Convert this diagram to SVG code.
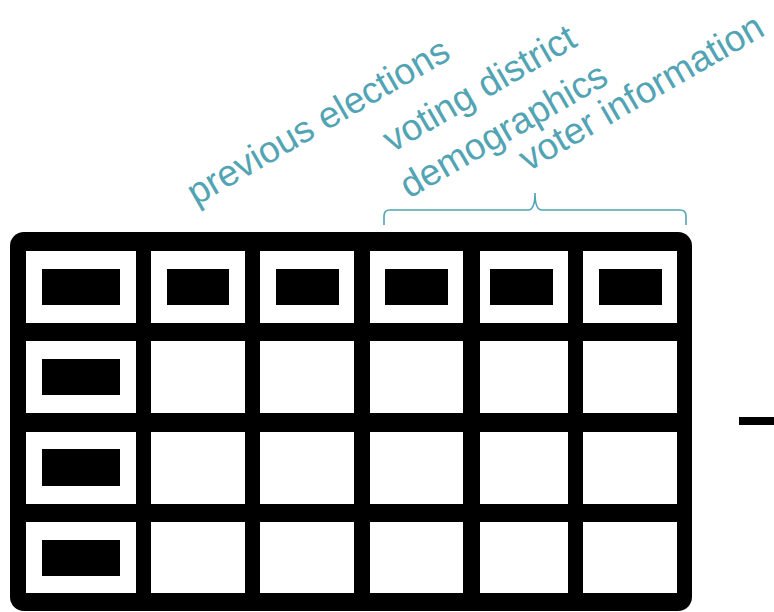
<svg xmlns="http://www.w3.org/2000/svg" width="774" height="612" viewBox="0 0 774 612">
<style>
.lbl{font-family:"Liberation Sans",Arial,sans-serif;font-size:37px;fill:#52a4b4}
.cell{fill:#fff}
.blk{fill:#000}
</style>
<rect width="774" height="612" fill="#fff"/>
<g id="labels">
<text id="t1" class="lbl" transform="translate(196,206) rotate(-30)">previous elections</text>
<text id="t2" class="lbl" transform="translate(392,153) rotate(-30)">voting district</text>
<text id="t3" class="lbl" transform="translate(409,199) rotate(-30)">demographics</text>
<text id="t4" class="lbl" transform="translate(528,172) rotate(-30)">voter information</text>
</g>
<g id="connectors">
<path d="M384,225 V216 Q384,210 390,210 H528 Q535,210 535,193 Q535,210 542,210 H680 Q686,210 686,216 V225" fill="none" stroke="#52a4b4" stroke-width="1.6"/>
</g>
<g id="table">
<rect x="10" y="232" width="682" height="379" rx="14" class="blk"/>
<g id="row1">
<rect class="cell" x="26" y="251" width="110" height="72"/>
<rect class="cell" x="151" y="251" width="94" height="72"/>
<rect class="cell" x="260" y="251" width="94" height="72"/>
<rect class="cell" x="370" y="251" width="93" height="72"/>
<rect class="cell" x="480" y="251" width="88" height="72"/>
<rect class="cell" x="583" y="251" width="94" height="72"/>
<rect class="blk" x="42" y="269" width="78" height="36"/>
<rect class="blk" x="167" y="269" width="62" height="36"/>
<rect class="blk" x="276" y="269" width="63" height="36"/>
<rect class="blk" x="385" y="269" width="63" height="36"/>
<rect class="blk" x="490" y="269" width="63" height="36"/>
<rect class="blk" x="599" y="269" width="63" height="36"/>
</g>
<g id="row2">
<rect class="cell" x="26" y="341" width="110" height="72"/>
<rect class="cell" x="151" y="341" width="94" height="72"/>
<rect class="cell" x="260" y="341" width="94" height="72"/>
<rect class="cell" x="370" y="341" width="93" height="72"/>
<rect class="cell" x="480" y="341" width="88" height="72"/>
<rect class="cell" x="583" y="341" width="94" height="72"/>
<rect class="blk" x="42" y="359" width="78" height="36"/>
</g>
<g id="row3">
<rect class="cell" x="26" y="432" width="110" height="72"/>
<rect class="cell" x="151" y="432" width="94" height="72"/>
<rect class="cell" x="260" y="432" width="94" height="72"/>
<rect class="cell" x="370" y="432" width="93" height="72"/>
<rect class="cell" x="480" y="432" width="88" height="72"/>
<rect class="cell" x="583" y="432" width="94" height="72"/>
<rect class="blk" x="42" y="449" width="78" height="37"/>
</g>
<g id="row4">
<rect class="cell" x="26" y="522" width="110" height="71"/>
<rect class="cell" x="151" y="522" width="94" height="71"/>
<rect class="cell" x="260" y="522" width="94" height="71"/>
<rect class="cell" x="370" y="522" width="93" height="71"/>
<rect class="cell" x="480" y="522" width="88" height="71"/>
<rect class="cell" x="583" y="522" width="94" height="71"/>
<rect class="blk" x="42" y="540" width="78" height="36"/>
</g>
</g>
<rect id="dash" class="blk" x="739" y="417" width="35" height="8"/>
</svg>
